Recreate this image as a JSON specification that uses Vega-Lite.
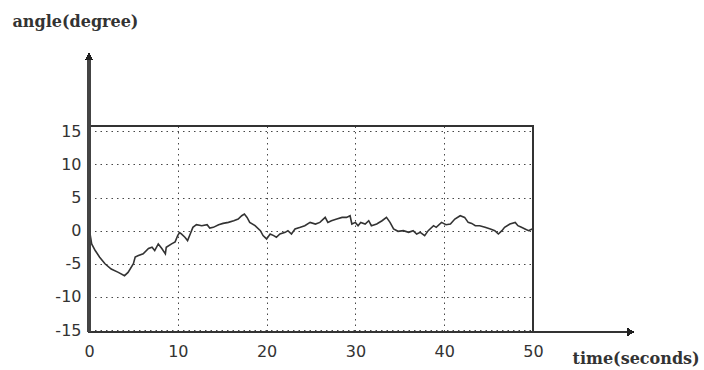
{
  "$schema": "https://vega.github.io/schema/vega-lite/v6.json",
  "width": 444,
  "height": 206,
  "autosize": {"type": "none"},
  "padding": {"left": 89, "top": 126, "right": 171, "bottom": 38},
  "background": "white",
  "config": {
    "view": {"stroke": "#333", "strokeWidth": 2},
    "axis": {
      "labelFont": "DejaVu Sans",
      "labelFontSize": 16,
      "labelColor": "#333",
      "labelOverlap": false,
      "labelFlush": false,
      "labelExpr": "toString(datum.value)",
      "titleFont": "DejaVu Serif",
      "titleFontSize": 16,
      "titleFontWeight": "bold",
      "titleColor": "#333",
      "grid": true,
      "gridColor": "#333",
      "gridDash": [1.5, 4],
      "gridWidth": 1,
      "gridOpacity": 0.9,
      "domain": false,
      "ticks": false
    }
  },
  "data": {
    "values": [
      {"t": 0.0, "angle": 0.5},
      {"t": 0.3, "angle": -2.0},
      {"t": 0.7, "angle": -3.0},
      {"t": 1.2, "angle": -4.0},
      {"t": 1.8, "angle": -5.0},
      {"t": 2.5, "angle": -5.8},
      {"t": 3.3, "angle": -6.3},
      {"t": 4.0, "angle": -6.8},
      {"t": 4.4, "angle": -6.3},
      {"t": 5.0, "angle": -5.0},
      {"t": 5.2, "angle": -4.0},
      {"t": 5.5, "angle": -3.8},
      {"t": 6.1, "angle": -3.5},
      {"t": 6.7, "angle": -2.7},
      {"t": 7.1, "angle": -2.5},
      {"t": 7.4, "angle": -3.0},
      {"t": 7.8, "angle": -2.0},
      {"t": 8.2, "angle": -2.7},
      {"t": 8.6, "angle": -3.5},
      {"t": 8.7, "angle": -2.5},
      {"t": 9.3, "angle": -2.0},
      {"t": 9.7, "angle": -1.7},
      {"t": 10.0, "angle": -0.7},
      {"t": 10.2, "angle": -0.3},
      {"t": 10.4, "angle": -0.5},
      {"t": 10.8, "angle": -1.0},
      {"t": 11.1, "angle": -1.5},
      {"t": 11.4, "angle": -0.5},
      {"t": 11.7, "angle": 0.5},
      {"t": 12.1, "angle": 0.9},
      {"t": 12.7, "angle": 0.75},
      {"t": 13.3, "angle": 0.9},
      {"t": 13.6, "angle": 0.4},
      {"t": 14.0, "angle": 0.5},
      {"t": 14.6, "angle": 0.9},
      {"t": 15.1, "angle": 1.1},
      {"t": 15.7, "angle": 1.25},
      {"t": 16.3, "angle": 1.5},
      {"t": 16.8, "angle": 1.75},
      {"t": 17.2, "angle": 2.25},
      {"t": 17.5, "angle": 2.5},
      {"t": 17.8, "angle": 2.0},
      {"t": 18.1, "angle": 1.25},
      {"t": 18.7, "angle": 0.75},
      {"t": 19.3, "angle": 0.0},
      {"t": 19.6, "angle": -0.75},
      {"t": 20.0, "angle": -1.25},
      {"t": 20.4, "angle": -0.5},
      {"t": 20.8, "angle": -0.75},
      {"t": 21.1, "angle": -1.0},
      {"t": 21.5, "angle": -0.5},
      {"t": 22.1, "angle": -0.25},
      {"t": 22.4, "angle": 0.0},
      {"t": 22.8, "angle": -0.5},
      {"t": 23.2, "angle": 0.25},
      {"t": 23.8, "angle": 0.5},
      {"t": 24.3, "angle": 0.75},
      {"t": 24.9, "angle": 1.25},
      {"t": 25.5, "angle": 1.0},
      {"t": 26.0, "angle": 1.25},
      {"t": 26.6, "angle": 2.0},
      {"t": 26.9, "angle": 1.25},
      {"t": 27.3, "angle": 1.5},
      {"t": 27.9, "angle": 1.75},
      {"t": 28.5, "angle": 2.0},
      {"t": 29.0, "angle": 2.0},
      {"t": 29.4, "angle": 2.25},
      {"t": 29.6, "angle": 1.0},
      {"t": 30.0, "angle": 1.25},
      {"t": 30.3, "angle": 0.75},
      {"t": 30.6, "angle": 1.25},
      {"t": 31.1, "angle": 1.0},
      {"t": 31.5, "angle": 1.5},
      {"t": 31.8, "angle": 0.75},
      {"t": 32.4, "angle": 1.0},
      {"t": 33.0, "angle": 1.5},
      {"t": 33.5, "angle": 2.0},
      {"t": 33.9, "angle": 1.25},
      {"t": 34.3, "angle": 0.25},
      {"t": 34.8, "angle": -0.1},
      {"t": 35.4, "angle": 0.0},
      {"t": 36.0, "angle": -0.25},
      {"t": 36.5, "angle": 0.0},
      {"t": 36.9, "angle": -0.5},
      {"t": 37.3, "angle": -0.25},
      {"t": 37.8, "angle": -0.75},
      {"t": 38.2, "angle": 0.0},
      {"t": 38.8, "angle": 0.75},
      {"t": 39.1, "angle": 0.5},
      {"t": 39.7, "angle": 1.25},
      {"t": 40.2, "angle": 0.9},
      {"t": 40.7, "angle": 1.0},
      {"t": 41.2, "angle": 1.75},
      {"t": 41.8, "angle": 2.25},
      {"t": 42.3, "angle": 2.0},
      {"t": 42.7, "angle": 1.25},
      {"t": 43.1, "angle": 1.1},
      {"t": 43.5, "angle": 0.75},
      {"t": 44.0, "angle": 0.75},
      {"t": 44.6, "angle": 0.5},
      {"t": 45.2, "angle": 0.25},
      {"t": 45.7, "angle": 0.0},
      {"t": 46.1, "angle": -0.5},
      {"t": 46.5, "angle": 0.0},
      {"t": 46.8, "angle": 0.5},
      {"t": 47.4, "angle": 1.0},
      {"t": 48.0, "angle": 1.25},
      {"t": 48.3, "angle": 0.75},
      {"t": 48.7, "angle": 0.5},
      {"t": 49.1, "angle": 0.25},
      {"t": 49.5, "angle": 0.0},
      {"t": 49.9, "angle": 0.25}
    ]
  },
  "layer": [
    {
      "mark": {"type": "line", "color": "#333", "strokeWidth": 1.6},
      "encoding": {
        "x": {
          "field": "t", "type": "quantitative",
          "scale": {"domain": [0, 50], "nice": false},
          "axis": {
            "values": [0, 10, 20, 30, 40, 50],
            "tickCount": 20,
            "labelPadding": 11,
            "title": "time(seconds)",
            "titleAlign": "left",
            "titleBaseline": "middle",
            "titleX": 483,
            "titleY": 26
          }
        },
        "y": {
          "field": "angle", "type": "quantitative",
          "scale": {"domain": [-15.3, 15.8], "nice": false, "zero": false},
          "axis": {
            "values": [-15, -10, -5, 0, 5, 10, 15],
            "tickCount": 20,
            "labelPadding": 8,
            "title": "angle(degree)",
            "titleAngle": 0,
            "titleAlign": "left",
            "titleBaseline": "middle",
            "titleX": -77,
            "titleY": -105
          }
        }
      }
    },
    {
      "mark": {"type": "rule", "color": "#444", "strokeWidth": 2.5},
      "encoding": {
        "x": {"datum": 0, "type": "quantitative"},
        "y": {"datum": -15.3, "type": "quantitative"},
        "y2": {"datum": 26.0}
      }
    },
    {
      "mark": {"type": "rule", "color": "#333", "strokeWidth": 1.5},
      "encoding": {
        "x": {"datum": 50, "type": "quantitative"},
        "x2": {"datum": 60.8},
        "y": {"datum": -15.3, "type": "quantitative"}
      }
    },
    {
      "mark": {"type": "point", "shape": "triangle-up", "filled": true, "color": "#222", "size": 40, "opacity": 1},
      "encoding": {
        "x": {"datum": 0, "type": "quantitative"},
        "y": {"datum": 26.3, "type": "quantitative"}
      }
    },
    {
      "mark": {"type": "point", "shape": "triangle-right", "filled": true, "color": "#222", "size": 40, "opacity": 1},
      "encoding": {
        "x": {"datum": 61.0, "type": "quantitative"},
        "y": {"datum": -15.3, "type": "quantitative"}
      }
    }
  ]
}
